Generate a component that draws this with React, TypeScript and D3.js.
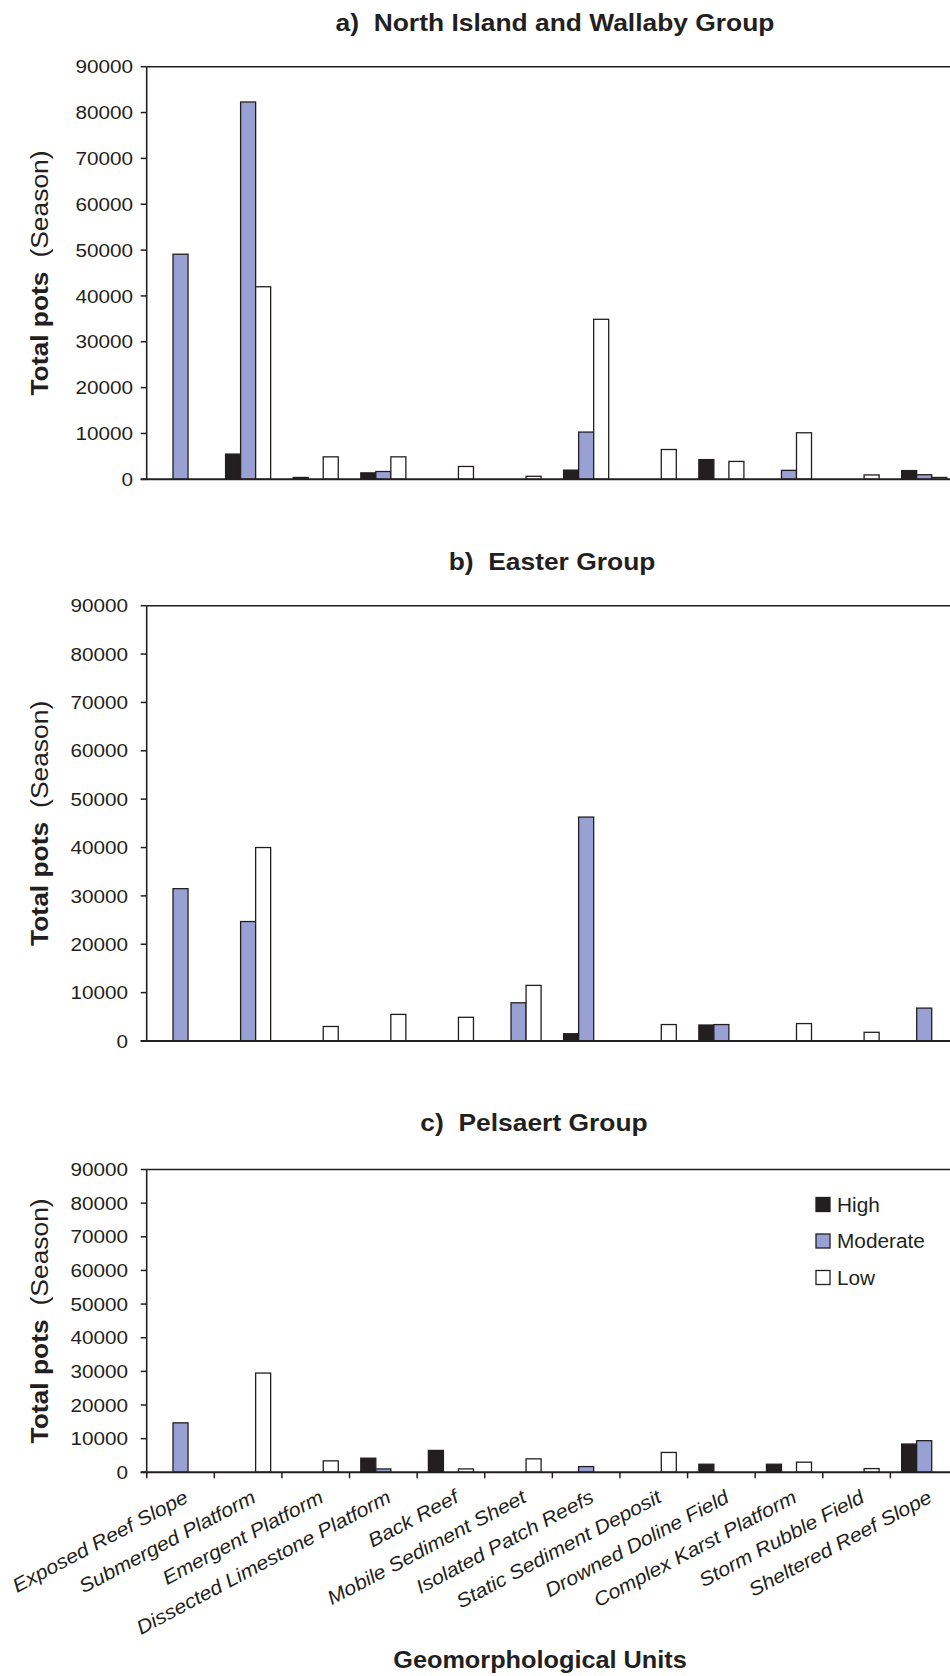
import React from 'react';
import { scaleBand, scaleLinear } from 'd3';

const categories = [
  'Exposed Reef Slope',
  'Submerged Platform',
  'Emergent Platform',
  'Dissected Limestone Platform',
  'Back Reef',
  'Mobile Sediment Sheet',
  'Isolated Patch Reefs',
  'Static Sediment Deposit',
  'Drowned Doline Field',
  'Complex Karst Platform',
  'Storm Rubble Field',
  'Sheltered Reef Slope',
];

const seriesNames = ['High', 'Moderate', 'Low'];
const seriesColors = ['#231f20', '#99a1d4', '#ffffff'];
const tickValues = [0, 10000, 20000, 30000, 40000, 50000, 60000, 70000, 80000, 90000];

// a) North Island and Wallaby Group
const northHigh = [0, 5500, 400, 1400, 0, 0, 2000, 0, 4300, 0, 0, 1900];
const northModerate = [49100, 82300, 0, 1700, 0, 0, 10300, 0, 0, 1950, 0, 1000];
const northLow = [0, 42000, 4900, 4900, 2800, 650, 34900, 6500, 3900, 10150, 950, 400];

// b) Easter Group
const easterHigh = [0, 0, 0, 0, 0, 0, 1500, 0, 3300, 0, 0, 0];
const easterModerate = [31500, 24700, 0, 0, 0, 7900, 46300, 0, 3400, 0, 0, 6800];
const easterLow = [0, 40000, 3000, 5500, 4900, 11500, 0, 3400, 0, 3600, 1800, 0];

// c) Pelsaert Group
const pelsaertHigh = [0, 0, 0, 4200, 6500, 0, 0, 0, 2400, 2400, 0, 8400];
const pelsaertModerate = [14700, 0, 0, 1000, 0, 0, 1700, 0, 0, 0, 0, 9400];
const pelsaertLow = [0, 29500, 3400, 0, 1000, 4000, 0, 5900, 0, 3000, 1100, 0];

const FONT = '"Liberation Sans", Arial, Helvetica, sans-serif';
const INK = '#231f20';

const panels = [
  {
    title: 'a)\u00a0\u00a0North Island and Wallaby Group',
    titleX: 555, titleY: 31,
    top: 66.7, bottom: 479.3, labelRight: 133,
    series: [northHigh, northModerate, northLow],
    xAxis: false, legend: false,
  },
  {
    title: 'b)\u00a0\u00a0Easter Group',
    titleX: 552, titleY: 570,
    top: 605.7, bottom: 1041, labelRight: 128,
    series: [easterHigh, easterModerate, easterLow],
    xAxis: false, legend: false,
  },
  {
    title: 'c)\u00a0\u00a0Pelsaert Group',
    titleX: 534, titleY: 1131,
    top: 1169.5, bottom: 1472.3, labelRight: 128,
    series: [pelsaertHigh, pelsaertModerate, pelsaertLow],
    xAxis: true, legend: true,
  },
];

const left = 146.7;
const right = 958;

function SText({ x, y, rotate = 0, sx = 1.1, children, ...rest }: any) {
  return (
    <text transform={`translate(${x},${y}) rotate(${rotate}) scale(${sx},1)`} fontFamily={FONT} fill={INK} {...rest}>
      {children}
    </text>
  );
}

function Panel({ p }: any) {
  const x = scaleBand().domain(categories).range([left, right]).paddingInner(0).paddingOuter(0);
  const inner = scaleBand().domain(seriesNames).range([0, x.bandwidth()]).paddingInner(0).paddingOuter(0.75);
  const y = scaleLinear().domain([0, 90000]).range([p.bottom, p.top]);

  return (
    <g>
      <SText x={p.titleX} y={p.titleY} fontSize={24} fontWeight="bold" textAnchor="middle">
        {p.title}
      </SText>

      {/* bars */}
      {categories.map((c, ci) => (
        <g key={c}>
          {seriesNames.map((s, si) => {
            const v = p.series[si][ci];
            if (!v) return null;
            return (
              <rect
                key={s}
                x={(x(c) as number) + (inner(s) as number)}
                y={y(v)}
                width={inner.bandwidth()}
                height={y(0) - y(v)}
                fill={seriesColors[si]}
                stroke={INK}
                strokeWidth={1.3}
              />
            );
          })}
        </g>
      ))}

      {/* frame */}
      <line x1={left} x2={right + 10} y1={p.top} y2={p.top} stroke={INK} strokeWidth={1.6} />
      <line x1={left} x2={left} y1={p.top} y2={p.bottom + (p.xAxis ? 6 : 0)} stroke={INK} strokeWidth={1.6} />
      <line x1={left - 6} x2={right + 10} y1={p.bottom} y2={p.bottom} stroke={INK} strokeWidth={2} />

      {/* y ticks */}
      {tickValues.map((t) => (
        <g key={t}>
          <line x1={left - 6} x2={left} y1={y(t)} y2={y(t)} stroke={INK} strokeWidth={1.5} />
          <SText x={p.labelRight} y={y(t)} dy="0.36em" fontSize={18.5} sx={1.12} textAnchor="end">
            {t}
          </SText>
        </g>
      ))}

      <SText x={48} y={(p.top + p.bottom) / 2} rotate={-90} fontSize={24} textAnchor="middle">
        <tspan fontWeight="bold">Total pots</tspan>
        <tspan dx="6"> (Season)</tspan>
      </SText>

      {p.xAxis && (
        <g>
          {categories.map((c) => (
            <line key={c} x1={(x(c) as number) + x.bandwidth()} x2={(x(c) as number) + x.bandwidth()} y1={p.bottom} y2={p.bottom + 6} stroke={INK} strokeWidth={1.5} />
          ))}
          {categories.map((c) => (
            <SText
              key={c}
              x={(x(c) as number) + x.bandwidth() / 2 + 9}
              y={p.bottom + 29}
              rotate={-28}
              fontSize={19.5}
              fontStyle="italic"
              textAnchor="end"
            >
              {c}
            </SText>
          ))}
        </g>
      )}

      {p.legend && (
        <g>
          {seriesNames.map((s, i) => (
            <g key={s}>
              <rect x={816} y={1197.5 + i * 36.5} width={14} height={14} fill={seriesColors[i]} stroke={INK} strokeWidth={1.3} />
              <SText x={837} y={1211.5 + i * 36.5} fontSize={20} sx={1.04}>
                {s}
              </SText>
            </g>
          ))}
        </g>
      )}
    </g>
  );
}

export default function App() {
  return (
    <svg width={950} height={1676} style={{ position: 'absolute', left: 0, top: 0, background: '#fff' }}>
      <rect width={950} height={1676} fill="#fff" />
      {panels.map((p) => (
        <Panel key={p.title} p={p} />
      ))}
      <SText x={540} y={1668} fontSize={23} fontWeight="bold" textAnchor="middle">
        Geomorphological Units
      </SText>
    </svg>
  );
}
